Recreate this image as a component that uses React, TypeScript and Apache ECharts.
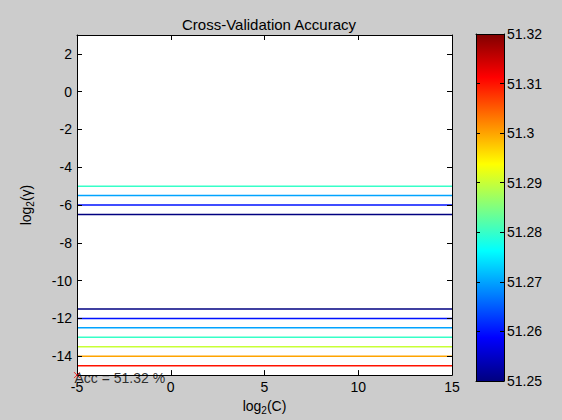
import React, { useEffect, useRef } from "react";
import * as echarts from "echarts";

// Contour lines: log2(gamma) position of each horizontal contour and its accuracy level
const contourGamma = [-5, -5.5, -6, -6.5, -11.5, -12, -12.5, -13, -13.5, -14, -14.5];
const contourAcc = [51.28, 51.27, 51.26, 51.25, 51.25, 51.26, 51.27, 51.28, 51.29, 51.3, 51.31];
const cExtent = [-5, 15];
const xTicks = [-5, 0, 5, 10, 15];
const yTicks = [-14, -12, -10, -8, -6, -4, -2, 0, 2];
const yExtent = [-15, 3];
const accExtent = [51.25, 51.32];
const bestPoint = [-5, -15];
const bestAcc = 51.32;

function clamp(v: number) {
  return Math.max(0, Math.min(1, v));
}
function jet(t: number) {
  const r = clamp(Math.min(4 * t - 1.5, -4 * t + 4.5));
  const g = clamp(Math.min(4 * t - 0.5, -4 * t + 3.5));
  const b = clamp(Math.min(4 * t + 0.5, -4 * t + 2.5));
  return `rgb(${Math.round(r * 255)},${Math.round(g * 255)},${Math.round(b * 255)})`;
}

const FONT = "Liberation Sans, Arial, sans-serif";
const FS = 14;

export default function App() {
  const ref = useRef<HTMLDivElement>(null);
  useEffect(() => {
    if (!ref.current) return;
    const chart = echarts.init(ref.current, null, { renderer: "svg" });
    const rich = {
      a: { fontSize: FS, fontFamily: FONT, color: "#000" },
      s: { fontSize: 10, fontFamily: FONT, color: "#000", padding: [8, 0, 0, 0] },
    };
    const lineSeries = contourGamma.map((g, i) => ({
      type: "line",
      xAxisIndex: 0,
      yAxisIndex: 0,
      data: [
        [cExtent[0], g],
        [cExtent[1], g],
      ],
      symbol: "none",
      silent: true,
      lineStyle: {
        width: 1.5,
        color: jet((contourAcc[i] - accExtent[0]) / (accExtent[1] - accExtent[0])),
      },
      z: 3,
    }));
    const stops = [] as { offset: number; color: string }[];
    for (let k = 0; k <= 32; k++) stops.push({ offset: k / 32, color: jet(k / 32) });

    const tickStyle = { show: true, inside: true, length: 5, lineStyle: { color: "#000" } };
    const cbTick = { show: true, inside: true, length: 4, lineStyle: { color: "#000" } };
    const axisLine = { show: true, onZero: false, lineStyle: { color: "#000", width: 1 } };
    const label = { color: "#000", fontSize: FS, fontFamily: FONT };

    chart.setOption({
      animation: false,
      backgroundColor: "#cccccc",
      title: {
        text: "Cross-Validation Accuracy",
        left: 264,
        textAlign: "center",
        top: 12,
        textStyle: { fontSize: 15, fontWeight: "normal", color: "#000", fontFamily: FONT },
      },
      grid: [
        { left: 77, top: 35, width: 375, height: 346, show: true, backgroundColor: "#fff", borderWidth: 0 },
        { left: 476, top: 34, width: 28, height: 347, show: false },
      ],
      xAxis: [
        {
          type: "value",
          gridIndex: 0,
          position: "bottom",
          min: cExtent[0],
          max: cExtent[1],
          interval: 5,
          axisLine,
          axisTick: tickStyle,
          axisLabel: { ...label, margin: 5, customValues: xTicks },
          splitLine: { show: false },
          name: "{a|log}{s|2}{a|(C)}",
          nameLocation: "middle",
          nameGap: 21,
          nameTextStyle: { rich },
          z: 5,
        },
        {
          type: "value",
          gridIndex: 0,
          position: "top",
          min: cExtent[0],
          max: cExtent[1],
          interval: 5,
          axisLine,
          axisTick: tickStyle,
          axisLabel: { show: false },
          splitLine: { show: false },
          z: 5,
        },
        {
          type: "value",
          gridIndex: 1,
          position: "bottom",
          min: 0,
          max: 1,
          axisLine,
          axisTick: { show: false },
          axisLabel: { show: false },
          splitLine: { show: false },
          z: 5,
        },
        {
          type: "value",
          gridIndex: 1,
          position: "top",
          min: 0,
          max: 1,
          axisLine,
          axisTick: { show: false },
          axisLabel: { show: false },
          splitLine: { show: false },
          z: 5,
        },
      ],
      yAxis: [
        {
          type: "value",
          gridIndex: 0,
          position: "left",
          min: yExtent[0],
          max: yExtent[1],
          axisLine,
          axisTick: { ...tickStyle, customValues: yTicks },
          axisLabel: { ...label, margin: 5, customValues: yTicks },
          splitLine: { show: false },
          name: "{a|log}{s|2}{a|(γ)}",
          nameLocation: "middle",
          nameGap: 42,
          nameRotate: 90,
          nameTextStyle: { rich },
          z: 5,
        },
        {
          type: "value",
          gridIndex: 0,
          position: "right",
          min: yExtent[0],
          max: yExtent[1],
          axisLine,
          axisTick: { ...tickStyle, customValues: yTicks },
          axisLabel: { show: false },
          splitLine: { show: false },
          z: 5,
        },
        {
          type: "value",
          gridIndex: 1,
          position: "right",
          min: accExtent[0],
          max: accExtent[1],
          interval: 0.01,
          axisLine,
          axisTick: cbTick,
          axisLabel: { ...label, margin: 3 },
          splitLine: { show: false },
          z: 5,
        },
        {
          type: "value",
          gridIndex: 1,
          position: "left",
          min: accExtent[0],
          max: accExtent[1],
          interval: 0.01,
          axisLine,
          axisTick: cbTick,
          axisLabel: { show: false },
          splitLine: { show: false },
          z: 5,
        },
      ],
      series: [
        ...lineSeries,
        {
          type: "line",
          xAxisIndex: 2,
          yAxisIndex: 2,
          data: [],
          silent: true,
          markArea: {
            silent: true,
            itemStyle: {
              color: { type: "linear", x: 0, y: 1, x2: 0, y2: 0, colorStops: stops },
            },
            data: [[{ coord: [0, accExtent[0]] }, { coord: [1, accExtent[1]] }]],
          },
          z: 1,
        },
        {
          type: "scatter",
          xAxisIndex: 0,
          yAxisIndex: 0,
          data: [bestPoint],
          symbol: "path://M0,0L10,10M10,0L0,10",
          symbolSize: 6,
          itemStyle: { color: "none", borderColor: "#ff0000", borderWidth: 1 },
          label: {
            show: true,
            position: [3, 1],
            align: "left",
            verticalAlign: "top",
            formatter: `Acc = ${bestAcc.toFixed(2)} %`,
            color: "#000",
            fontSize: FS,
            fontFamily: FONT,
          },
          clip: false,
          z: 10,
        },
      ],
    });
    return () => chart.dispose();
  }, []);
  return <div ref={ref} style={{ width: 562, height: 420, position: "absolute", left: 0, top: 0 }} />;
}
